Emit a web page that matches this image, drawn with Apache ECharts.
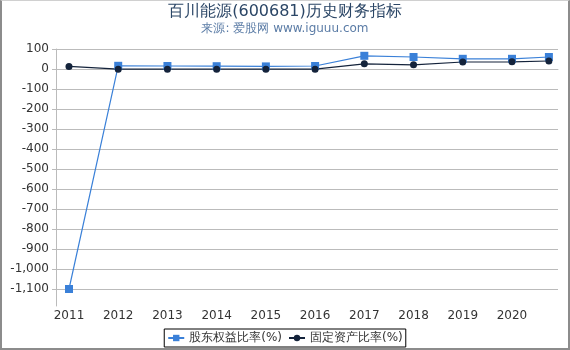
<!DOCTYPE html>
<html><head><meta charset="utf-8">
<script src="https://cdn.jsdelivr.net/npm/echarts@6/dist/echarts.min.js"></script>
<style>
html,body{margin:0;padding:0;background:#fff;}
#wrap{position:relative;width:570px;height:350px;}
#c{width:570px;height:350px;}
#frame{position:absolute;left:0;top:0;width:570px;height:350px;box-sizing:border-box;border:2px solid #8c8c8c;border-top:1px solid #d0d0d0;pointer-events:none;}
</style></head><body>
<div id="wrap"><div id="c"></div><div id="frame"></div></div>
<script>
// period positions (fractional year; last point is Q3 of the latest year)
var periods = [2011, 2012, 2013, 2014, 2015, 2016, 2017, 2018, 2019, 2020, 2020.75];
var xTickLabels = [2011, 2012, 2013, 2014, 2015, 2016, 2017, 2018, 2019, 2020];
var yTickValues = [100, 0, -100, -200, -300, -400, -500, -600, -700, -800, -900, -1000, -1100];
var equityRatio = [-1100, 16, 15, 14, 13, 15, 66, 60, 51, 51, 60];
var fixedAssetRatio = [13, -1, -1, -1, -1, -1, 26, 21, 35, 36, 40];

function pairs(xs, ys){ return xs.map(function(x,i){ return [x, ys[i]]; }); }

var chart = echarts.init(document.getElementById('c'));
chart.setOption({
  animation:false,
  title:{
    text:'百川能源(600681)历史财务指标',
    subtext:'来源: 爱股网 www.iguuu.com',
    left:'center', top:-1, itemGap:3,
    textStyle:{fontSize:16, fontWeight:'normal', color:'#2b4666', fontFamily:'DejaVu Sans'},
    subtextStyle:{fontSize:12, color:'#5b7ca6', fontFamily:'DejaVu Sans'}
  },
  legend:{
    bottom:3, left:'center',
    borderColor:'#000', borderWidth:1, padding:[3,3,3,3], itemGap:6,
    itemWidth:16, itemHeight:8,
    textStyle:{fontSize:12, color:'#333', fontFamily:'DejaVu Sans'},
    data:['股东权益比率(%)','固定资产比率(%)']
  },
  grid:{left:56, right:12, top:49, bottom:44, containLabel:false},
  xAxis:{
    type:'value', min:2010.736, max:2020.935,
    axisLine:{show:true, lineStyle:{color:'#bbb'}},
    axisTick:{show:false, customValues:xTickLabels},
    splitLine:{show:false},
    axisLabel:{customValues:xTickLabels, color:'#333', fontSize:12, fontFamily:'DejaVu Sans', margin:4,
      formatter:function(v){ return String(Math.round(v)); }}
  },
  yAxis:{
    type:'value', min:-1185, max:100,
    axisLine:{show:true, lineStyle:{color:'#bbb'}},
    axisTick:{show:true, length:4, customValues:yTickValues, lineStyle:{color:'#bbb'}},
    splitLine:{show:true, lineStyle:{color:'#bbb', width:1}},
    axisLabel:{customValues:yTickValues, color:'#333', fontSize:12, fontFamily:'DejaVu Sans', margin:7,
      formatter:function(v){ return v.toLocaleString('en-US'); }}
  },
  series:[
    {name:'股东权益比率(%)', type:'line', data:pairs(periods, equityRatio),
     symbol:'rect', symbolSize:8, showSymbol:true,
     itemStyle:{color:'#3a80d8'}, lineStyle:{color:'#3a80d8', width:1.2}},
    {name:'固定资产比率(%)', type:'line', data:pairs(periods, fixedAssetRatio),
     symbol:'circle', symbolSize:7, showSymbol:true,
     itemStyle:{color:'#14233b'}, lineStyle:{color:'#14233b', width:1.2}}
  ]
});
</script>
</body></html>
